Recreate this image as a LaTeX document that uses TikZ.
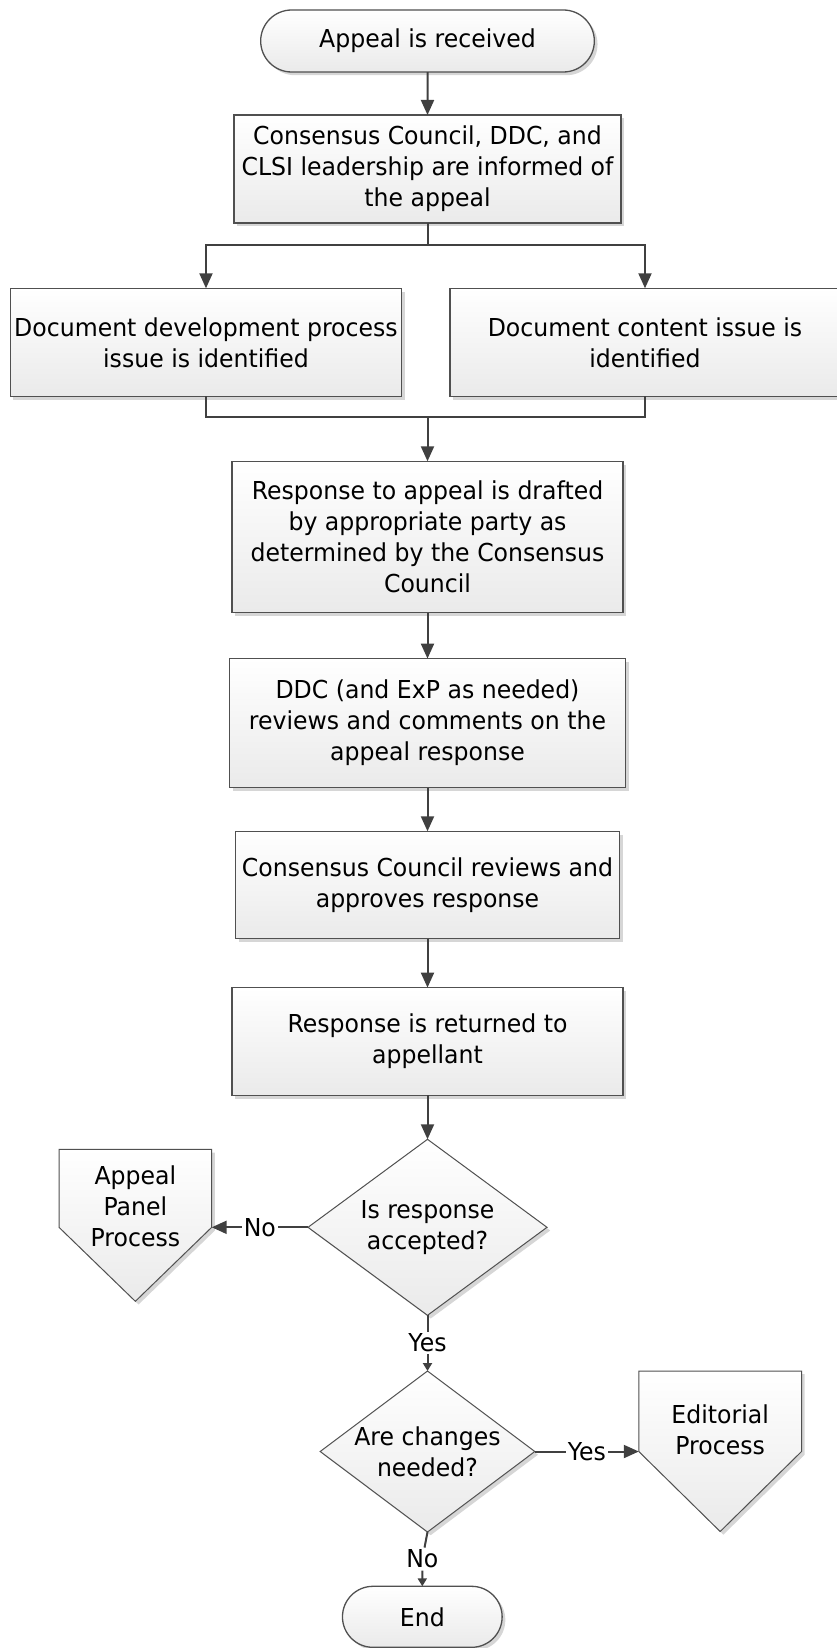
\documentclass[tikz,border=0pt]{standalone}
\usepackage{fontspec}
\setmainfont{DejaVu Sans}[FakeStretch=0.955]
\usepackage{tikz}
\usetikzlibrary{
    positioning,
    arrows.meta,
    calc,
    shadows,
    shapes.geometric,
    shapes.misc
}
\pgfdeclarelayer{background}
\pgfsetlayers{background,main}
\definecolor{lineGray}{RGB}{64, 64, 64}
\definecolor{edgeGray}{RGB}{80, 80, 80}
\definecolor{fillGray}{RGB}{234, 234, 234}
\definecolor{shadowGray}{RGB}{214, 214, 214}
\tikzset{
    % shared look: gradient fill, thin border, drop shadow
    shape base/.style={
        draw=edgeGray,
        line width=0.65pt,
        outer sep=0pt,
        top color=white,
        bottom color=fillGray,
        drop shadow={fill=shadowGray, opacity=1, shadow xshift=1.6pt, shadow yshift=-1.6pt}
    },
    flowtext/.style={
        align=center,
        text=black,
        font=\fontsize{12.35pt}{15.5pt}\selectfont
    },
    % process box
    block/.style={
        shape base,
        flowtext,
        rectangle,
        inner sep=2pt,
        minimum width=195pt,
        minimum height=54pt
    },
    % start / end
    terminal/.style={
        shape base,
        flowtext,
        rounded rectangle,
        minimum height=31pt
    },
    % decision
    decision/.style={
        shape base,
        flowtext,
        diamond,
        line width=0.5pt,
        inner sep=0pt
    },
    % off-page connector (outline drawn on the background layer)
    offpage/.style={
        shape base,
        line width=0.5pt
    },
    offtext/.style={
        flowtext,
        inner sep=0pt,
        outer sep=0pt
    },
    % arrows
    arrow/.style={
        -{Triangle[length=7.5pt, width=6.5pt]},
        color=lineGray,
        line width=1pt
    },
    short arrow/.style={
        -{Triangle[length=4pt, width=4.5pt]},
        color=lineGray,
        line width=1pt
    },
    line/.style={
        color=lineGray,
        line width=1pt
    },
    % Yes / No on the connectors
    answer/.style={
        flowtext,
        fill=white,
        inner sep=1pt
    }
}

\begin{document}
\begin{tikzpicture}
    \useasboundingbox (0,0) rectangle (418pt,-824pt);

    % [1] start
    \node[terminal, minimum width=173.5pt] (start) at (213.75pt,-20.5pt) {Appeal is received};

    % [2] everyone is informed
    \node[block, minimum width=193.5pt, below=21.5pt of start] (inform) {Consensus Council, DDC, and\\CLSI leadership are informed of\\the appeal};

    % split into the two kinds of issue
    \coordinate[below=11pt of inform.south] (split);
    \node[block, below left=32.65pt and 12.9pt of inform.south] (procIssue) {Document development process\\issue is identified};
    \node[block, below right=32.65pt and 11.25pt of inform.south] (contIssue) {Document content issue is\\identified};
    \coordinate (merge) at ($(inform.south |- procIssue.south)+(0,-10.5pt)$);

    % [3] - [6] main column
    \node[block, minimum width=195.5pt, minimum height=75.65pt, below=22pt of merge] (draft) {Response to appeal is drafted\\by appropriate party as\\determined by the Consensus\\Council};
    \node[block, minimum width=197.85pt, minimum height=64.5pt, below=23pt of draft] (review) {DDC (and ExP as needed)\\reviews and comments on the\\appeal response};
    \node[block, minimum width=192.15pt, minimum height=53.65pt, below=21.85pt of review] (approve) {Consensus Council reviews and\\approves response};
    \node[block, minimum width=195.5pt, minimum height=53.85pt, below=24.5pt of approve] (reply) {Response is returned to\\appellant};

    % decisions
    \node[decision, aspect=1.36, minimum width=119.5pt, minimum height=88pt, below=22pt of reply] (accept) {Is response\\accepted?};
    \node[decision, aspect=1.33, minimum width=107.3pt, minimum height=80.5pt, below=27.85pt of accept] (change) {Are changes\\needed?};

    % end
    \node[terminal, minimum width=86.5pt, minimum height=30.5pt, below=27.15pt of change, xshift=-2.6pt] (finish) {End};

    % off-page connectors: text nodes, outline behind them
    \node[offtext, minimum width=76.35pt, minimum height=57pt, left=48.15pt of accept.west, yshift=10.5pt] (panel) {Appeal\\Panel\\Process};
    \node[offtext, minimum width=81.35pt, minimum height=58.5pt, right=52pt of change.east, yshift=11pt] (edit) {Editorial\\Process};
    \begin{pgfonlayer}{background}
        \draw[offpage] (panel.north west) -- (panel.north east) -- (panel.east |- accept.west)
            -- ($(panel.center |- accept.west)+(0,-37pt)$) -- (panel.west |- accept.west) -- cycle;
        \draw[offpage] (edit.north west) -- (edit.north east) -- (edit.east |- change.east)
            -- ($(edit.center |- change.east)+(0,-40pt)$) -- (edit.west |- change.east) -- cycle;
    \end{pgfonlayer}

    % connectors
    \draw[arrow] (start) -- (inform);
    \draw[line] (inform.south) -- (split);
    \draw[arrow] (split) -| (procIssue.north);
    \draw[arrow] (split) -| (contIssue.north);
    \draw[line] (procIssue.south) |- (merge);
    \draw[line] (contIssue.south) |- (merge);
    \draw[arrow] (merge) -- (draft);
    \draw[arrow] (draft) -- (review);
    \draw[arrow] (review) -- (approve);
    \draw[arrow] (approve) -- (reply);
    \draw[arrow] (reply) -- (accept);

    % answers
    \draw[arrow] (accept.west) -- node[answer] {No} (accept.west -| panel.east);
    \draw[short arrow] (accept.south) -- node[answer] {Yes} (change.north);
    \draw[arrow] (change.east) -- node[answer] {Yes} (change.east -| edit.west);
    \node[answer] (noLbl) at ($(change.south -| finish.north)!0.5!(finish.north)$) {No};
    \draw[line] (change.south) -- (noLbl);
    \draw[short arrow] (noLbl) -- (finish);

\end{tikzpicture}
\end{document}
